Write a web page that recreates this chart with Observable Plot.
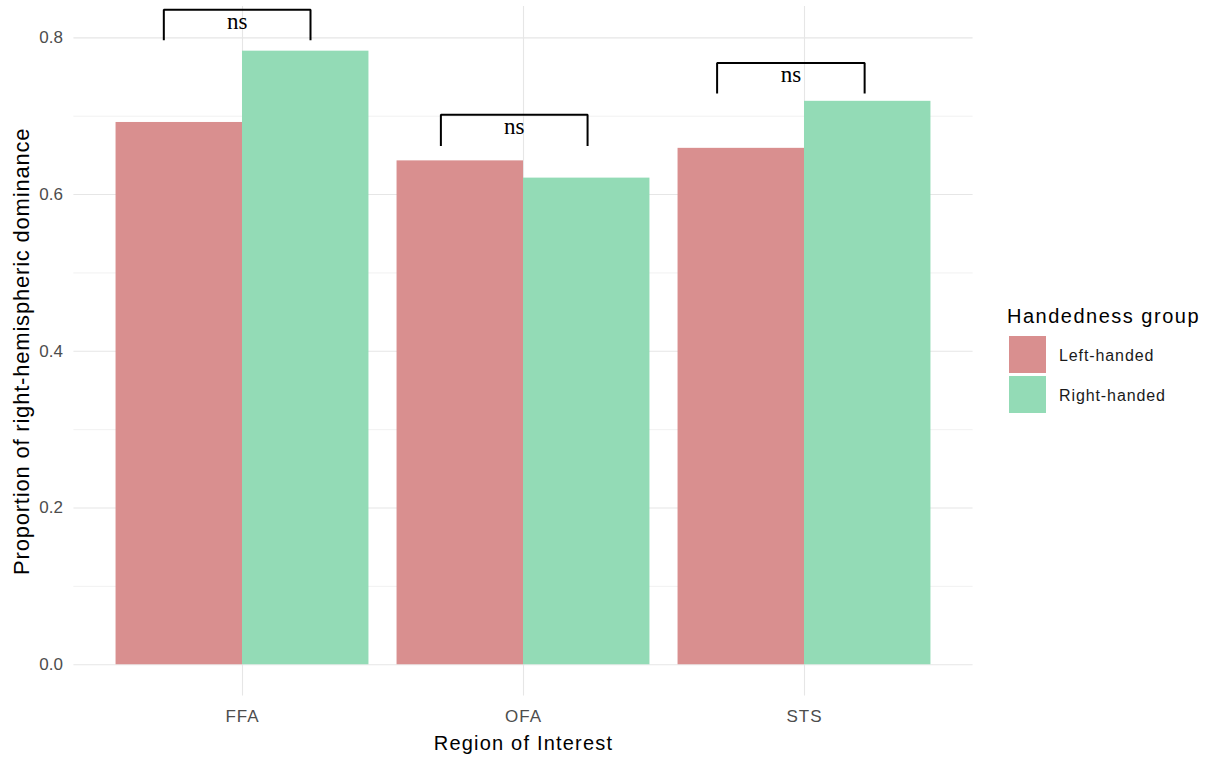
<!DOCTYPE html>
<html>
<head>
<meta charset="utf-8">
<script src="https://cdn.jsdelivr.net/npm/d3@7"></script>
<script src="https://cdn.jsdelivr.net/npm/@observablehq/plot@0.6"></script>
<style>
  html, body { margin: 0; padding: 0; background: #fff; }
  #wrap { position: relative; width: 1209px; height: 758px; font-family: "Liberation Sans", Arial, sans-serif; }
  #legend { position: absolute; left: 1007px; top: 300px; }
  #legend .title { font-size: 20px; letter-spacing: 1.5px; color: #000; height: 34px; line-height: 32px; }
  #legend .row { display: flex; align-items: center; height: 40px; }
  #legend .sw { width: 37px; height: 37px; margin-left: 2px; margin-right: 13px; }
  #legend .lab { font-size: 16px; letter-spacing: 0.9px; color: #1a1a1a; padding-top: 3px; }
  .xtick text { letter-spacing: 1px; }
</style>
</head>
<body>
<div id="wrap"><div id="chart"></div><div id="legend"></div></div>
<script>
// ---- data ----
const regions = ["FFA", "OFA", "STS"];
const groups = ["Left-handed", "Right-handed"];
const leftHanded = [0.692, 0.643, 0.659];
const rightHanded = [0.783, 0.621, 0.719];
const groupColors = ["#d98f8f", "#93dbb6"];
const yTicks = [0, 0.2, 0.4, 0.6, 0.8];
const yMinorTicks = [0.1, 0.3, 0.5, 0.7];
const xTitle = "Region of Interest";
const yTitle = "Proportion of right-hemispheric dominance";
const legendTitle = "Handedness group";
// significance brackets (annotation values)
const bracketLabels = ["ns", "ns", "ns"];
const bracketTop = [0.836, 0.702, 0.768];
const bracketFoot = [0.797, 0.662, 0.729];
const bracketStart = [0.72, 1.706, 2.689];
const bracketEnd = [1.242, 2.228, 3.214];

// ---- derived tables ----
const dodge = 0.45;
const bars = regions.flatMap((r, i) => groups.map((g, j) => ({
  region: r, group: g, pos: i + 1, side: j,
  value: j === 0 ? leftHanded[i] : rightHanded[i]
})));
const bracketPaths = regions.flatMap((r, i) => [
  {region: r, x: bracketStart[i], y: bracketFoot[i]},
  {region: r, x: bracketStart[i], y: bracketTop[i]},
  {region: r, x: bracketEnd[i], y: bracketTop[i]},
  {region: r, x: bracketEnd[i], y: bracketFoot[i]}
]);
const bracketText = regions.map((r, i) => ({
  region: r, x: (bracketStart[i] + bracketEnd[i]) / 2, y: bracketTop[i], label: bracketLabels[i]
}));

const chart = Plot.plot({
  width: 1209,
  height: 758,
  marginLeft: 73.4,
  marginRight: 236.4,
  marginTop: 6,
  marginBottom: 62.4,
  style: {fontFamily: "Liberation Sans, Arial, sans-serif", background: "white", overflow: "visible"},
  x: {type: "linear", domain: [0.4, 3.6]},
  y: {domain: [-0.04, 0.84]},
  color: {domain: groups, range: groupColors},
  marks: [
    Plot.ruleY(yMinorTicks, {stroke: "#eeeeee", strokeWidth: 0.8}),
    Plot.ruleY(yTicks, {stroke: "#e6e6e6", strokeWidth: 1.1}),
    Plot.ruleX(regions.map((r, i) => i + 1), {stroke: "#e6e6e6", strokeWidth: 1.1}),
    Plot.rectY(bars, {
      x1: d => d.pos + (d.side - 1) * dodge,
      x2: d => d.pos + d.side * dodge,
      y1: 0, y2: "value", fill: "group", inset: 0
    }),
    Plot.line(bracketPaths, {x: "x", y: "y", z: "region", stroke: "#000", strokeWidth: 2, strokeLinejoin: "miter", strokeLinecap: "butt"}),
    Plot.text(bracketText, {x: "x", y: "y", text: "label", dy: 12, fontSize: 23, fontFamily: "Liberation Serif, Times New Roman, serif", fill: "#000"}),
    Plot.axisY({ticks: yTicks, tickFormat: d3.format(".1f"), tickSize: 0, tickPadding: 11, fontSize: 17, label: null, className: "ytick"}),
    Plot.axisX({ticks: regions.map((r, i) => i + 1), tickFormat: d => regions[d - 1], tickSize: 0, tickPadding: 14, fontSize: 17, label: null, className: "xtick"}),
    Plot.text([xTitle], {frameAnchor: "bottom", lineAnchor: "middle", dy: 47, fontSize: 20, fill: "#000", className: "xtitle"}),
    Plot.text([yTitle], {frameAnchor: "left", textAnchor: "middle", lineAnchor: "middle", dx: -52, rotate: -90, fontSize: 22, fill: "#000", className: "ytitle"})
  ]
});
document.getElementById("chart").appendChild(chart);

// tick label colour and spacing
chart.querySelectorAll("[aria-label='y-axis tick label'] text, [aria-label='x-axis tick label'] text").forEach(t => t.setAttribute("fill", "#4d4d4d"));
chart.querySelectorAll("[aria-label='y-axis tick label'], [aria-label='x-axis tick label']").forEach(g => g.setAttribute("fill", "#4d4d4d"));
chart.querySelectorAll(".xtitle text").forEach(t => t.style.letterSpacing = "1.2px");
chart.querySelectorAll(".ytitle text").forEach(t => t.style.letterSpacing = "0.8px");

// legend
const legend = document.getElementById("legend");
const lt = document.createElement("div");
lt.className = "title"; lt.textContent = legendTitle;
legend.appendChild(lt);
groups.forEach((g, i) => {
  const row = document.createElement("div"); row.className = "row";
  const sw = document.createElement("div"); sw.className = "sw"; sw.style.background = groupColors[i];
  const lab = document.createElement("div"); lab.className = "lab"; lab.textContent = g;
  row.appendChild(sw); row.appendChild(lab); legend.appendChild(row);
});
</script>
</body>
</html>
